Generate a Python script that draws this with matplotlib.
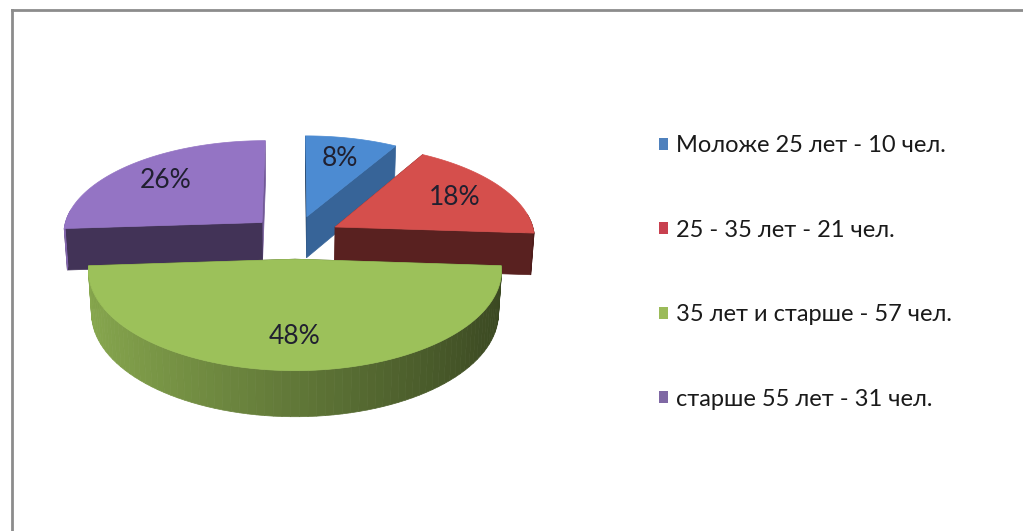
import numpy as np
import matplotlib
matplotlib.use("Agg")
import matplotlib.pyplot as plt
from matplotlib.patches import Polygon, Patch
from matplotlib.lines import Line2D
from matplotlib.colors import to_rgb

# ---------------- data ----------------
categories = ["Моложе 25 лет - 10 чел.", "25 - 35 лет - 21 чел.",
              "35 лет и старше - 57 чел.", "старше 55 лет - 31 чел."]
counts = [10, 21, 57, 31]
top_colors = ["#4c8bd2", "#d54f4c", "#9cc15a", "#9474c4"]
legend_colors = ["#4f81bd", "#c8404f", "#9bbb59", "#7f68a4"]

FONT = ["Lato", "DejaVu Sans"]

# ---------------- figure ----------------
W, H = 1023, 531
fig = plt.figure(figsize=(W / 100, H / 100), dpi=100)
ax = fig.add_axes([0, 0, 1, 1])
ax.set_xlim(0, W)
ax.set_ylim(H, 0)
ax.axis("off")

# frame
ax.add_line(Line2D([12, 12], [10, H + 5], color="#8c8c8c", lw=2.0))
ax.add_line(Line2D([12, W + 5], [10, 10], color="#8c8c8c", lw=2.0))

# ---------------- 3D pie projection ----------------
CX, CY = 295, 237
DIST = 8.0
F = 200 * DIST
PHI = np.deg2rad(28)
DEPTH = 0.24
EXPLODE = 0.23
LABEL_R = 0.72


def proj(X, Y, Z):
    X, Y, Z = map(np.asarray, (X, Y, Z))
    yc = Y * np.cos(PHI) + Z * np.sin(PHI)
    zc = DIST + Z * np.cos(PHI) - Y * np.sin(PHI)
    return CX + F * X / zc, CY - F * yc / zc, zc


def shade(color, f):
    r, g, b = to_rgb(color)
    return (r * f, g * f, b * f)


total = sum(counts)
fracs = np.array(counts) / total
edges = np.concatenate([[0], np.cumsum(fracs)]) * 2 * np.pi

faces = []
label_pos = []
for i, frac in enumerate(fracs):
    t0, t1 = edges[i], edges[i + 1]
    m = 0.5 * (t0 + t1)
    ox, oz = EXPLODE * np.sin(m), EXPLODE * np.cos(m)
    th = np.linspace(t0, t1, 80)
    ax_ = ox + np.sin(th)
    az_ = oz + np.cos(th)
    slice_faces = []
    # outer wall segments
    for k in range(len(th) - 1):
        tm = 0.5 * (th[k] + th[k + 1])
        if np.cos(tm) > 0.15:
            continue
        Xs = [ax_[k], ax_[k + 1], ax_[k + 1], ax_[k]]
        Zs = [az_[k], az_[k + 1], az_[k + 1], az_[k]]
        Ys = [0, 0, -DEPTH, -DEPTH]
        px, py, zc = proj(Xs, Ys, Zs)
        f = 0.62 - 0.25 * np.sin(tm)
        slice_faces.append((zc.mean(), np.column_stack([px, py]),
                            shade(top_colors[i], f)))
    # radial walls
    for t, n in ((t0, (-np.cos(t0), np.sin(t0))), (t1, (np.cos(t1), -np.sin(t1)))):
        Xs = [ox, ox + np.sin(t), ox + np.sin(t), ox]
        Zs = [oz, oz + np.cos(t), oz + np.cos(t), oz]
        Ys = [0, 0, -DEPTH, -DEPTH]
        px, py, zc = proj(Xs, Ys, Zs)
        f = 0.42 + 0.35 * max(0.0, n[0])
        slice_faces.append((zc.mean(), np.column_stack([px, py]),
                            shade(top_colors[i], f)))
    slice_faces.sort(key=lambda s: -s[0])
    # top face
    Xs = np.concatenate([[ox], ax_])
    Zs = np.concatenate([[oz], az_])
    px, py, zc = proj(Xs, np.zeros_like(Xs), Zs)
    slice_faces.append((0, np.column_stack([px, py]), top_colors[i]))
    faces.append((oz, slice_faces))
    lx, ly, _ = proj(ox + LABEL_R * np.sin(m), 0, oz + LABEL_R * np.cos(m))
    label_pos.append((lx, ly))

for oz, sf in sorted(faces, key=lambda s: -s[0]):
    for _, xy, col in sf:
        ax.add_patch(Polygon(xy, closed=True, facecolor=col,
                             edgecolor=col, lw=0.5))

for i, (lx, ly) in enumerate(label_pos):
    ax.text(lx, ly, f"{round(100 * fracs[i]):.0f}%", ha="center", va="center",
            fontsize=19, color="#202030", family=FONT)

# ---------------- legend ----------------
handles = [Patch(facecolor=c, edgecolor="none") for c in legend_colors]
leg = fig.legend(handles, categories, loc="upper left",
                 bbox_to_anchor=(659 / W, 1 - 135 / H), frameon=False,
                 prop={"family": FONT, "size": 17}, handlelength=0.4,
                 handleheight=0.4, handletextpad=0.34, labelspacing=2.69,
                 borderpad=0, borderaxespad=0)
for t in leg.get_texts():
    t.set_color("#1a1a1a")

fig.savefig("out.png", dpi=100, facecolor="white")
